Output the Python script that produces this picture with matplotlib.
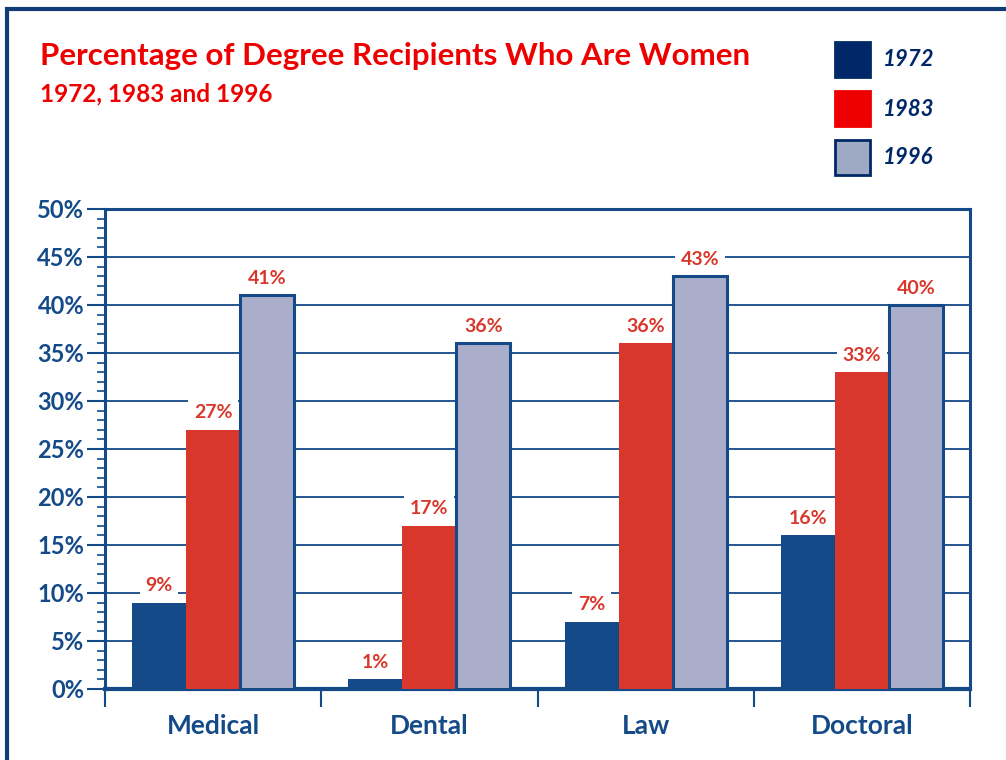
import numpy as np
import matplotlib.pyplot as plt
from matplotlib.patches import Rectangle
from matplotlib.ticker import MultipleLocator, FixedLocator

# data
categories = ["Medical", "Dental", "Law", "Doctoral"]
years = ["1972", "1983", "1996"]
pct_1972 = [9, 1, 7, 16]
pct_1983 = [27, 17, 36, 33]
pct_1996 = [41, 36, 43, 40]

NAVY = "#134a87"
DARK_NAVY = "#002868"
RED_BAR = "#d9372c"
RED = "#ee0000"
LILAC = "#aaaecb"

plt.rcParams['font.family'] = ['Lato', 'DejaVu Sans']

fig = plt.figure(figsize=(10.06, 7.6), dpi=100)
ax = fig.add_axes([105 / 1006, 1 - 689 / 760, 865 / 1006, 480 / 760])

x = np.arange(len(categories))
w = 0.25
series = [pct_1972, pct_1983, pct_1996]
fills = [NAVY, RED_BAR, LILAC]
for i, (vals, col) in enumerate(zip(series, fills)):
    pos = x + (i - 1) * w
    if i == 2:
        ax.bar(pos, vals, w, color=col, edgecolor=NAVY, linewidth=2.2, zorder=3)
    else:
        ax.bar(pos, vals, w, color=col, linewidth=0, zorder=3)
    for px, v in zip(pos, vals):
        ax.annotate(f"{v}%", (px, v), xytext=(0, 6), textcoords="offset points",
                    ha="center", va="bottom", fontsize=14, fontweight="bold",
                    color=RED_BAR, zorder=4,
                    bbox=dict(facecolor="white", edgecolor="none", pad=4))

ax.set_xlim(-0.5, len(categories) - 0.5)
ax.set_ylim(0, 50)
ax.yaxis.set_major_locator(MultipleLocator(5))
ax.yaxis.set_minor_locator(MultipleLocator(1))
ax.set_yticklabels([f"{int(t)}%" for t in ax.get_yticks()])
ax.yaxis.grid(True, which="major", color=NAVY, linewidth=1.3, zorder=1)
ax.set_axisbelow(True)

ax.set_xticks(x)
ax.set_xticklabels(categories)
ax.xaxis.set_minor_locator(FixedLocator(np.arange(-0.5, len(categories), 1.0)))
ax.tick_params(axis="x", which="major", length=0, pad=18, labelsize=19,
               labelcolor=NAVY)
ax.tick_params(axis="x", which="minor", length=13, width=1.5, color=NAVY)
ax.tick_params(axis="y", which="major", length=13, width=1.5, color=NAVY,
               labelsize=17, labelcolor=NAVY, pad=2)
ax.tick_params(axis="y", which="minor", length=6, width=1.2, color=NAVY)
for lab in ax.get_xticklabels() + ax.get_yticklabels():
    lab.set_fontweight("bold")

for side in ["left", "top", "right"]:
    ax.spines[side].set_color(NAVY)
    ax.spines[side].set_linewidth(2.2)
ax.spines["bottom"].set_color(NAVY)
ax.spines["bottom"].set_linewidth(3)

# outer frame
fig.patches.append(Rectangle((7 / 1006, -0.1), 1.2, 1 - 9 / 760 + 0.1,
                             transform=fig.transFigure, fill=False,
                             edgecolor="#0f3c78", linewidth=3))

fig.text(40 / 1006, 1 - 56 / 760, "Percentage of Degree Recipients Who Are Women",
         fontsize=22.5, fontweight="bold", color=RED, va="center")
fig.text(40 / 1006, 1 - 94 / 760, "1972, 1983 and 1996",
         fontsize=17.5, fontweight="bold", color=RED, va="center")

# legend boxes
leg_cols = [DARK_NAVY, RED, "#9eaac4"]
leg_y = [60, 109, 158]
for yr, col, yc in zip(years, leg_cols, leg_y):
    fig.patches.append(Rectangle((835 / 1006, 1 - (yc + 17) / 760), 35 / 1006, 35 / 760,
                                 transform=fig.transFigure, facecolor=col,
                                 edgecolor=DARK_NAVY if yr == "1996" else col,
                                 linewidth=2))
    fig.text(883 / 1006, 1 - yc / 760, yr, fontsize=16, fontweight="bold",
             fontstyle="italic", color=DARK_NAVY, va="center")

fig.savefig("out.png", dpi=100)
